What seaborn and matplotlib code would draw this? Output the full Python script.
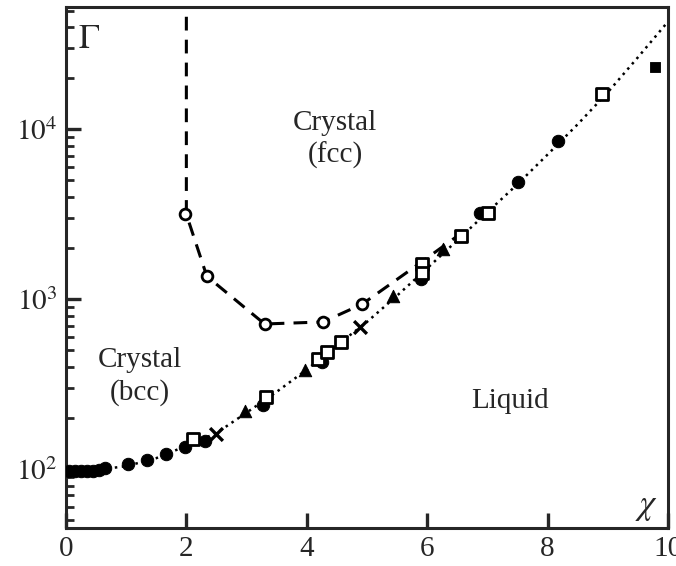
import pandas as pd
import seaborn as sns
import matplotlib.pyplot as plt
from matplotlib.ticker import LogLocator, FixedLocator, FixedFormatter, NullFormatter

# melting line (dotted guide)
melt_x = [0, 0.5, 1, 1.5, 2, 2.5, 3, 3.5, 4, 4.5, 5, 5.5, 6, 6.5, 7, 7.5, 8, 8.5, 9, 9.5, 10]
melt_g = [97, 99, 104, 116, 137, 163, 215, 285, 385, 535, 735, 1050, 1520, 2220, 3250, 4750, 7100, 10700, 16500, 26500, 43000]

# bcc-fcc boundary (dashed)
fcc_x = [2.0, 2.0, 2.34, 3.3, 4.27, 4.92, 5.9, 6.5]
fcc_g = [46000, 3160, 1365, 715, 735, 935, 1650, 2350]
fcc_pts_x = [1.98, 2.34, 3.3, 4.27, 4.92]
fcc_pts_g = [3160, 1365, 715, 735, 935]

# simulation points on the melting line
circ_x = [0.05, 0.15, 0.25, 0.35, 0.45, 0.55, 0.65, 1.03, 1.35, 1.67, 1.98, 2.31, 3.27, 4.25, 5.9, 6.88, 7.51, 8.17]
circ_g = [97, 97, 97, 98, 98, 99, 101, 107, 113, 122, 135, 146, 238, 426, 1312, 3210, 4870, 8500]
sq_x = [2.11, 3.32, 4.19, 4.34, 4.57, 5.91, 5.91, 6.56, 7.01, 8.9]
sq_g = [150, 265, 447, 488, 558, 1607, 1420, 2345, 3210, 16060]
tri_x = [2.97, 3.97, 5.43, 6.26]
tri_g = [219, 382, 1042, 1968]
cross_x = [2.5, 4.88]
cross_g = [161, 684]
fsq_x = [9.78]
fsq_g = [23200]

sns.set_style("ticks")
plt.rcParams["font.family"] = ["Liberation Serif", "DejaVu Serif"]
plt.rcParams["mathtext.fontset"] = "stix"

fig = plt.figure(figsize=(6.76, 5.66), dpi=100)
ax = fig.add_axes([0.0976, 0.0671, 0.8904, 0.9205])

sns.lineplot(x=melt_x, y=melt_g, ax=ax, color="black", lw=1.8, linestyle=(0, (1, 1.8)),
             sort=False, estimator=None)
sns.lineplot(x=fcc_x, y=fcc_g, ax=ax, color="black", lw=2.2, linestyle=(0, (4.5, 3)),
             sort=False, estimator=None)

sns.scatterplot(x=circ_x, y=circ_g, ax=ax, marker="o", s=80, color="black", edgecolor="black", zorder=4)
sns.scatterplot(x=sq_x, y=sq_g, ax=ax, marker="s", s=75, color="white", edgecolor="black", linewidth=2, zorder=5)
sns.scatterplot(x=tri_x, y=tri_g, ax=ax, marker="^", s=80, color="black", edgecolor="black", zorder=4)
sns.scatterplot(x=cross_x, y=cross_g, ax=ax, marker="x", s=85, color="black", linewidth=2.4, zorder=4)
sns.scatterplot(x=fsq_x, y=fsq_g, ax=ax, marker="s", s=60, color="black", edgecolor="black", zorder=4)
sns.scatterplot(x=fcc_pts_x, y=fcc_pts_g, ax=ax, marker="o", s=60, color="white", edgecolor="black", linewidth=2, zorder=5)

ax.set_yscale("log")
ax.set_xlim(0, 10)
ax.set_ylim(45, 52500)
ax.set_xlabel("")
ax.set_ylabel("")

ax.xaxis.set_major_locator(FixedLocator([0, 2, 4, 6, 8, 10]))
ax.yaxis.set_major_locator(FixedLocator([1e2, 1e3, 1e4]))
ax.yaxis.set_major_formatter(FixedFormatter([r"$10^{2}$", r"$10^{3}$", r"$10^{4}$"]))
ax.yaxis.set_minor_locator(LogLocator(base=10, subs=range(2, 10)))
ax.yaxis.set_minor_formatter(NullFormatter())

ax.tick_params(axis="both", which="major", direction="in", length=11, width=2.4, labelsize=21, pad=6)
ax.tick_params(axis="y", which="minor", direction="in", length=6, width=2.0)
ax.tick_params(axis="x", which="minor", bottom=False)
for s in ax.spines.values():
    s.set_linewidth(2.2)

ax.text(0.2, 3.4e4, r"$\Gamma$", fontsize=25, ha="left", va="center")
ax.text(9.65, 60, r"$\chi$", fontsize=25, ha="center", va="center")
ax.text(4.47, 8700, "Crystal\n(fcc)", fontsize=21, ha="center", va="center", linespacing=1.3)
ax.text(1.23, 350, "Crystal\n(bcc)", fontsize=21, ha="center", va="center", linespacing=1.3)
ax.text(7.38, 251, "Liquid", fontsize=21, ha="center", va="center")

fig.savefig("out.png", dpi=100)
